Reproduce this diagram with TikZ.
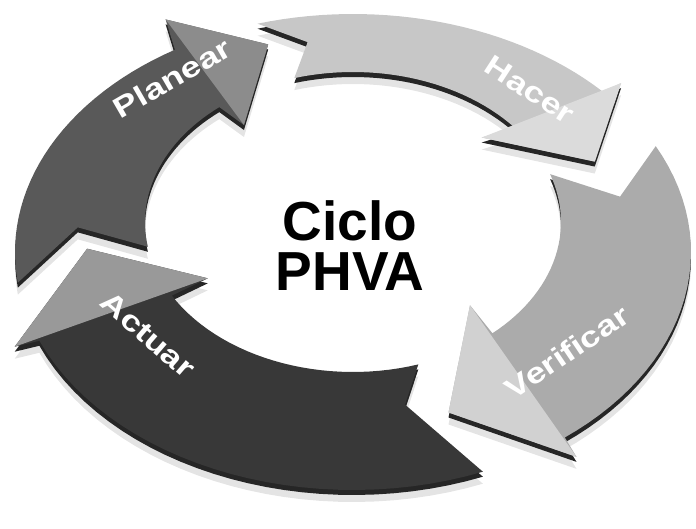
\documentclass[tikz,border=0pt]{standalone}
\usepackage{fontspec}
\setmainfont{Liberation Sans}

% ring coordinates: t = angle (clockwise on the page), r = 0 inner edge, 1 outer edge
\pgfkeys{/ring/.cd,t/.initial=0,r/.initial=0}
\tikzdeclarecoordinatesystem{ring}{%
  \pgfkeys{/ring/.cd,#1}%
  \pgfmathsetmacro\ringt{\pgfkeysvalueof{/ring/t}}%
  \pgfmathsetmacro\ringr{\pgfkeysvalueof{/ring/r}}%
  \pgfmathsetmacro\ringx{353+(208+130*\ringr)*cos(\ringt)}%
  \pgfmathsetmacro\ringy{222+30*\ringr+(150+88*\ringr)*sin(\ringt)}%
  \pgfpointxy{\ringx}{\ringy}}

\def\planearpath{(ring cs:t=170.5,r=0) -- (ring cs:t=183,r=.52) -- (ring cs:t=172.6,r=1)
  -- plot[domain=172.6:238.2,samples=30] (ring cs:t=\x,r=1)
  -- (ring cs:t=242,r=1.47) -- (ring cs:t=253,r=.63) -- (ring cs:t=227,r=-.37) -- (ring cs:t=230,r=0)
  -- plot[domain=230:170.5,samples=30] (ring cs:t=\x,r=0) -- cycle}
\def\hacerpath{(ring cs:t=253.6,r=0) -- (ring cs:t=260.7,r=.56) -- (ring cs:t=253.6,r=1)
  -- plot[domain=253.6:317.7,samples=30] (ring cs:t=\x,r=1)
  -- (ring cs:t=317,r=1.22) -- (ring cs:t=337,r=.42) -- (ring cs:t=321.8,r=-.34) -- (ring cs:t=320.8,r=0)
  -- plot[domain=320.8:253.6,samples=30] (ring cs:t=\x,r=0) -- cycle}
\def\verificarpath{(ring cs:t=341.4,r=0) -- (ring cs:t=348,r=.5) -- (ring cs:t=333.6,r=1)
  -- plot[domain=333.6:411.2,samples=30] (ring cs:t=\x,r=1)
  -- (ring cs:t=411.8,r=1.18) -- (ring cs:t=429,r=.45) -- (ring cs:t=407,r=-.28) -- (ring cs:t=407.9,r=0)
  -- plot[domain=407.9:341.4,samples=30] (ring cs:t=\x,r=0) -- cycle}
\def\actuarpath{(ring cs:t=71.7,r=0) -- (ring cs:t=77.9,r=.31) -- (ring cs:t=67.4,r=1)
  -- plot[domain=67.4:158.1,samples=30] (ring cs:t=\x,r=1)
  -- (ring cs:t=159.4,r=1.18) -- (ring cs:t=176,r=.45) -- (ring cs:t=148.5,r=-.29) -- (ring cs:t=150.6,r=0)
  -- plot[domain=150.6:71.7,samples=30] (ring cs:t=\x,r=0) -- cycle}

\begin{document}
\begin{tikzpicture}[x=1pt,y=-1pt,
    shadow/.style={fill=black!30,opacity=.35,transform canvas={yshift=-12pt}},
    face/.style={preaction={fill=black!85,transform canvas={yshift=-5pt}}},
    lbl/.style={font=\bfseries\fontsize{36}{36}\selectfont,text=white,inner sep=0pt}]
    \useasboundingbox (0,0) rectangle (696,529);
    % shadows under the ring
    \fill[shadow] \hacerpath;
    \fill[shadow] \verificarpath;
    \fill[shadow] \actuarpath;
    \fill[shadow] \planearpath;
    % Hacer
    \fill[face,fill=black!22] \hacerpath;
    \fill[black!14] (ring cs:t=317,r=1.22) -- (ring cs:t=337,r=.42) -- (ring cs:t=321.8,r=-.34) -- cycle;
    % Verificar
    \fill[face,fill=black!33] \verificarpath;
    \fill[black!18] (ring cs:t=411.8,r=1.18) -- (ring cs:t=429,r=.45) -- (ring cs:t=407,r=-.28) -- cycle;
    % Actuar
    \fill[face,fill=black!78] \actuarpath;
    \fill[black!40] (ring cs:t=159.4,r=1.18) -- (ring cs:t=176,r=.45) -- (ring cs:t=148.5,r=-.29) -- cycle;
    % Planear
    \fill[face,fill=black!65] \planearpath;
    \fill[black!45] (ring cs:t=242,r=1.47) -- (ring cs:t=253,r=.63) -- (ring cs:t=227,r=-.37) -- cycle;
    % labels
    \node[lbl,rotate=30,yscale=.8] (planear) at (172,78) {Planear};
    \node[lbl,rotate=-33,yscale=.8] (hacer) at (530,90) {Hacer};
    \node[lbl,rotate=34,yscale=.8] (verificar) at (567,352) {Verificar};
    \node[lbl,rotate=-41,yscale=.8] (actuar) at (148,335) {Actuar};
    \node[font=\bfseries\fontsize{55}{50}\selectfont,align=center] (title) at (350,246) {Ciclo\\PHVA};
\end{tikzpicture}
\end{document}
